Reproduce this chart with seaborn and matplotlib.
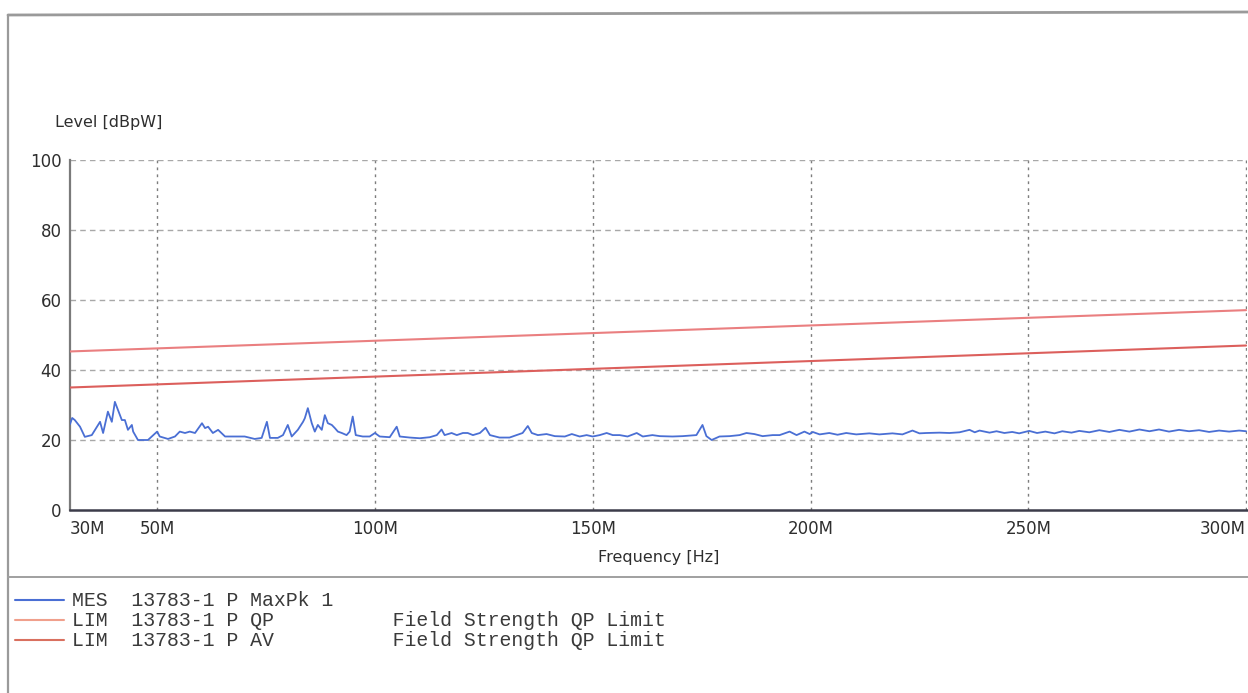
import matplotlib
matplotlib.use("Agg")
import matplotlib.pyplot as plt
from matplotlib.lines import Line2D
import seaborn as sns
import pandas as pd

# Measured peak trace: frequency in MHz, level in dB
mes_freq = [
    30.0, 30.5, 31.1, 32.3, 33.4, 35.0, 36.9, 37.6, 38.7, 39.6, 40.3, 41.0, 41.9,
    42.6, 43.3, 44.2, 44.5, 45.6, 47.9, 50.0, 50.6, 52.5, 54.1, 55.2, 56.4, 57.5,
    58.7, 60.3, 61.0, 61.7, 62.8, 64.0, 65.6, 67.9, 70.1, 72.4, 74.0, 75.2, 75.9,
    77.7, 78.9, 80.0, 80.9, 82.3, 83.5, 83.9, 84.6, 85.5, 86.2, 86.9, 87.8, 88.5,
    89.2, 90.1, 90.8, 91.5, 92.4, 93.5, 94.2, 94.9, 95.6, 97.2, 98.8, 100.0, 101.1,
    103.4, 105.0, 105.7, 108.0, 110.3, 112.6, 114.2, 115.3, 116.0, 117.6, 118.8,
    120.2, 121.3, 122.5, 124.1, 125.4, 126.4, 128.6, 130.9, 132.5, 133.9, 135.1,
    136.0, 137.4, 139.4, 141.3, 143.6, 145.2, 147.0, 148.6, 150.0, 151.6, 153.2,
    154.6, 156.2, 158.0, 160.1, 161.5, 163.7, 165.4, 168.3, 170.6, 173.8, 175.2,
    176.1, 177.3, 179.1, 181.4, 183.7, 185.3, 187.1, 189.0, 191.3, 192.9, 195.2,
    196.8, 198.6, 199.8, 200.5, 202.1, 204.3, 206.2, 208.2, 210.5, 213.5, 215.8,
    218.8, 221.1, 223.4, 225.0, 226.6, 229.6, 231.9, 234.2, 236.5, 237.7, 238.8,
    241.1, 242.7, 244.5, 246.3, 247.9, 250.2, 252.0, 253.9, 256.0, 257.8, 259.9,
    261.7, 264.0, 266.3, 268.6, 270.9, 273.2, 275.5, 277.8, 280.0, 282.3, 284.6,
    286.9, 289.2, 291.5, 293.8, 296.1, 298.4, 300.0,
]
mes_level = [
    24.5, 26.3, 25.7, 23.8, 20.9, 21.4, 25.2, 22.0, 28.1, 25.2, 30.9, 28.6, 25.7,
    25.7, 22.9, 24.3, 22.4, 20.0, 20.0, 22.4, 21.0, 20.3, 21.0, 22.4, 22.0, 22.4,
    22.0, 24.8, 23.4, 23.8, 22.0, 22.9, 21.0, 21.0, 21.0, 20.3, 20.6, 25.2, 20.6,
    20.6, 21.4, 24.3, 21.0, 22.9, 25.2, 26.2, 29.1, 24.8, 22.4, 24.3, 22.9, 27.1,
    24.8, 24.3, 23.4, 22.4, 22.0, 21.4, 22.4, 26.7, 21.4, 21.0, 21.0, 22.0, 21.0,
    20.8, 23.8, 21.0, 20.7, 20.5, 20.8, 21.4, 23.0, 21.4, 22.0, 21.4,
    22.0, 22.0, 21.4, 22.0, 23.5, 21.4, 20.7, 20.7, 21.4, 22.0, 24.0,
    22.0, 21.4, 21.7, 21.1, 21.0, 21.7, 21.0, 21.4, 21.0, 21.4, 22.0,
    21.4, 21.4, 21.0, 22.0, 21.0, 21.4, 21.1, 21.0, 21.1, 21.4, 24.3,
    21.1, 20.0, 21.0, 21.1, 21.4, 22.0, 21.7, 21.1, 21.4, 21.4, 22.4,
    21.4, 22.4, 21.7, 22.3, 21.6, 22.0, 21.5, 22.0, 21.6, 21.9, 21.6,
    21.9, 21.6, 22.7, 21.9, 22.0, 22.1, 22.0, 22.2, 22.9, 22.2, 22.7,
    22.1, 22.5, 22.0, 22.3, 21.9, 22.6, 22.0, 22.4, 21.9, 22.5, 22.1,
    22.6, 22.2, 22.8, 22.3, 22.9, 22.4, 23.0, 22.5, 23.0, 22.4, 22.9,
    22.5, 22.8, 22.3, 22.7, 22.4, 22.7, 22.5,
]

# Limit lines (straight between the band edges)
lim_freq = [30.0, 300.0]
lim_qp = [45.3, 57.1]
lim_av = [35.0, 47.0]

x_ticks = [30, 50, 100, 150, 200, 250, 300]
x_tick_labels = ["30M", "50M", "100M", "150M", "200M", "250M", "300M"]
y_ticks = [0, 20, 40, 60, 80, 100]

legend_rows = [
    ("MES  13783-1 P MaxPk 1", "#4a6fd4"),
    ("LIM  13783-1 P QP          Field Strength QP Limit", "#f0a08c"),
    ("LIM  13783-1 P AV          Field Strength QP Limit", "#d9705f"),
]

W, H = 1248, 693
sns.set_theme(style="white")
plt.rcParams["font.family"] = ["DejaVu Sans"]

fig = plt.figure(figsize=(W / 100, H / 100), dpi=100)
fig.patch.set_facecolor("white")

left, right, bottom, top = 70, 1247, 510, 160
ax = fig.add_axes([left / W, (H - bottom) / H, (right - left) / W, (bottom - top) / H])
ax.set_facecolor("white")

mes_df = pd.DataFrame({"freq": mes_freq, "level": mes_level})
lim_df = pd.DataFrame({"freq": lim_freq, "qp": lim_qp, "av": lim_av})

sns.lineplot(data=lim_df, x="freq", y="qp", ax=ax, color="#ea7f80", linewidth=1.5, zorder=3)
sns.lineplot(data=lim_df, x="freq", y="av", ax=ax, color="#dc5f5c", linewidth=1.5, zorder=3)
sns.lineplot(data=mes_df, x="freq", y="level", ax=ax, color="#4a6fd4", linewidth=1.3, zorder=4)

ax.set_xlim(30, 300.2)
ax.set_ylim(0, 100)
ax.set_xticks(x_ticks)
ax.set_xticklabels(x_tick_labels)
ax.set_yticks(y_ticks)

# Grid: darker dotted verticals, lighter dashed horizontals
for xv in x_ticks[1:]:
    ax.axvline(xv, color="#7d7d7d", linewidth=1.0, linestyle=(0, (2, 3)), zorder=1)
for yv in y_ticks[1:]:
    ax.axhline(yv, color="#a8a8a8", linewidth=1.0, linestyle=(0, (4, 3)), zorder=1)

for side in ("top", "right"):
    ax.spines[side].set_visible(False)
ax.spines["left"].set_color("#7a7a7a")
ax.spines["left"].set_linewidth(1.6)
ax.spines["bottom"].set_color("#3c3c4a")
ax.spines["bottom"].set_linewidth(1.8)

ax.tick_params(axis="both", length=0, labelsize=12, labelcolor="#2e2e2e")
ax.tick_params(axis="y", pad=6)
ax.tick_params(axis="x", pad=7)
xl = ax.get_xticklabels()
xl[0].set_ha("left")
xl[-1].set_ha("right")

ax.set_xlabel("Frequency [Hz]", fontsize=11.5, color="#2e2e2e", labelpad=9)
ax.set_ylabel("")
fig.text(55 / W, 1 - 122 / H, "Level [dBpW]", fontsize=11.5, color="#2e2e2e",
         ha="left", va="center")

# Page frame and legend separator
frame_color = "#9a9a9a"
fig.add_artist(Line2D([8 / W, 8 / W], [0, 1 - 15 / H], color=frame_color, linewidth=1.6))
fig.add_artist(Line2D([8 / W, 1], [1 - 15 / H, 1 - 12 / H], color=frame_color, linewidth=2.0))
fig.add_artist(Line2D([8 / W, 1], [1 - 577 / H, 1 - 577 / H], color="#a0a0a0", linewidth=1.4))

# Legend block
for i, (label, color) in enumerate(legend_rows):
    yy = 1 - (600 + 20 * i) / H
    fig.add_artist(Line2D([15 / W, 64 / W], [yy, yy], color=color, linewidth=1.5))
    fig.text(72 / W, yy, label, fontsize=14.3, family="Liberation Mono",
             color="#3a3a3a", ha="left", va="center")

fig.savefig("out.png", dpi=100, facecolor="white")
